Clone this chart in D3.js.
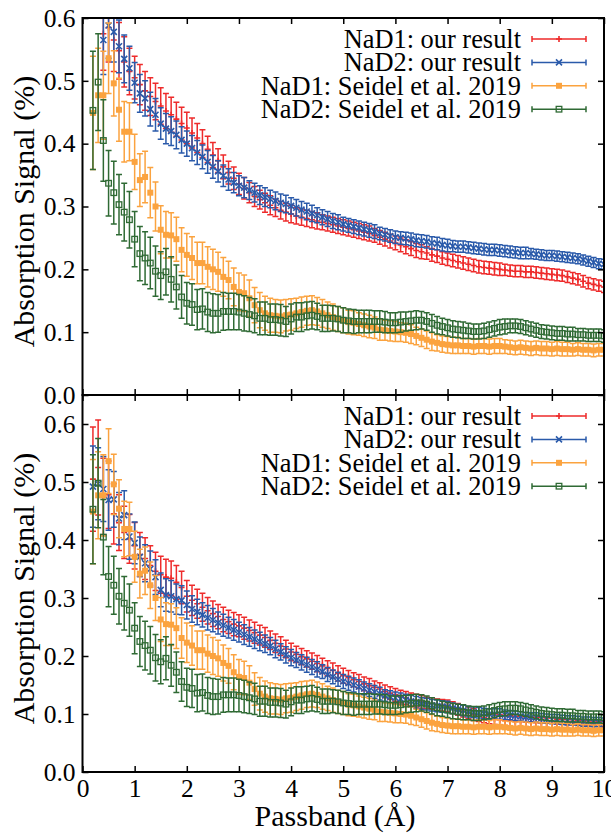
<!DOCTYPE html>
<html>
<head>
<meta charset="utf-8">
<script src="https://cdn.jsdelivr.net/npm/d3@7"></script>
<style>
  html, body { margin: 0; padding: 0; background: #fff; }
  svg { display: block; }
</style>
</head>
<body>
<svg id="chart" width="611" height="834"></svg>
<script>
// Passband widths (Å) at which the absorption signal is measured
const passband = [
  0.2,0.3,0.4,0.5,0.6,0.7,0.8,0.9,1.0,
  1.1,1.2,1.3,1.4,1.5,1.6,1.7,1.8,1.9,2.0,
  2.1,2.2,2.3,2.4,2.5,2.6,2.7,2.8,2.9,3.0,
  3.1,3.2,3.3,3.4,3.5,3.6,3.7,3.8,3.9,4.0,
  4.1,4.2,4.3,4.4,4.5,4.6,4.7,4.8,4.9,5.0,
  5.1,5.2,5.3,5.4,5.5,5.6,5.7,5.8,5.9,6.0,
  6.1,6.2,6.3,6.4,6.5,6.6,6.7,6.8,6.9,7.0,
  7.1,7.2,7.3,7.4,7.5,7.6,7.7,7.8,7.9,8.0,
  8.1,8.2,8.3,8.4,8.5,8.6,8.7,8.8,8.9,9.0,
  9.1,9.2,9.3,9.4,9.5,9.6,9.7,9.8,9.9,10.0
];
// upper panel "our result" starts at 0.4 Å
const passbandUpper = passband.slice(2);

// Seidel et al. 2019 (same in both panels)
const seidelNaD1 = [
  .449,.477,.477,.536,.496,.454,.419,.419,.371,
  .342,.347,.322,.300,.263,.255,.254,.248,.231,.223,
  .218,.210,.210,.204,.200,.196,.188,.183,.172,.164,
  .162,.154,.143,.135,.130,.127,.126,.125,.127,.128,
  .130,.132,.134,.135,.133,.130,.127,.124,.121,.119,
  .116,.115,.113,.111,.109,.107,.104,.103,.102,.101,
  .100,.099,.097,.094,.091,.088,.085,.083,.081,.080,
  .079,.079,.078,.078,.077,.078,.078,.077,.078,.078,
  .077,.076,.075,.076,.075,.074,.075,.074,.074,.073,
  .074,.073,.073,.072,.073,.072,.072,.071,.072,.072
];
const seidelNaD1Err = [
  .090,.075,.070,.056,.052,.050,.048,.046,.044,
  .042,.041,.040,.039,.038,.037,.036,.035,.035,.034,
  .034,.033,.033,.032,.032,.031,.031,.030,.030,.030,
  .029,.029,.028,.028,.027,.027,.026,.026,.025,.025,
  .024,.024,.023,.023,.022,.022,.021,.021,.020,.020,
  .019,.019,.018,.018,.018,.017,.017,.016,.016,.016,
  .015,.015,.015,.014,.014,.014,.014,.013,.013,.013,
  .013,.013,.012,.012,.012,.012,.012,.012,.012,.012,
  .011,.011,.011,.011,.011,.011,.011,.011,.011,.011,
  .011,.011,.011,.010,.010,.010,.010,.010,.010,.010
];
const seidelNaD2 = [
  .453,.498,.405,.337,.322,.303,.291,.279,.248,
  .225,.218,.210,.197,.190,.196,.184,.172,.156,.146,
  .144,.136,.137,.132,.130,.130,.133,.133,.133,.132,
  .130,.128,.126,.122,.122,.120,.120,.119,.117,.121,
  .124,.124,.126,.127,.125,.122,.122,.122,.121,.119,
  .118,.117,.117,.117,.117,.117,.117,.116,.115,.115,
  .116,.117,.118,.119,.119,.117,.114,.111,.109,.107,
  .105,.104,.103,.102,.101,.101,.102,.104,.106,.108,
  .109,.110,.110,.109,.107,.105,.103,.101,.100,.099,
  .098,.098,.097,.097,.096,.096,.095,.095,.095,.094
];
const seidelNaD2Err = [
  .094,.077,.065,.052,.050,.048,.046,.045,.044,
  .043,.042,.041,.040,.038,.037,.036,.035,.034,.033,
  .033,.032,.032,.031,.031,.030,.030,.029,.029,.028,
  .028,.027,.027,.026,.026,.025,.025,.025,.024,.024,
  .023,.023,.022,.022,.021,.021,.021,.020,.020,.020,
  .019,.019,.018,.018,.018,.017,.017,.017,.016,.016,
  .016,.015,.015,.015,.014,.014,.014,.014,.013,.013,
  .013,.013,.013,.012,.012,.012,.012,.012,.012,.012,
  .012,.011,.011,.011,.011,.011,.011,.011,.011,.011,
  .011,.011,.011,.011,.010,.010,.010,.010,.010,.010
];

// Upper panel: our result (0.4 - 10 Å)
const upperNaD1 = [
  .575,.585,.565,.548,.530,.515,.505,
  .494,.484,.475,.467,.460,.452,.446,.439,.432,.425,
  .417,.409,.400,.391,.382,.373,.363,.354,.345,.336,
  .329,.322,.316,.311,.306,.302,.298,.294,.291,.288,
  .285,.283,.281,.279,.277,.275,.273,.271,.269,.267,
  .265,.263,.261,.259,.257,.254,.251,.248,.245,.242,
  .239,.236,.233,.230,.228,.226,.223,.221,.218,.216,
  .214,.212,.210,.208,.206,.204,.203,.202,.201,.200,
  .199,.198,.197,.197,.196,.196,.195,.194,.193,.192,
  .191,.190,.188,.186,.184,.181,.178,.176,.174,.172
];
const upperNaD1Err = [
  .058,.055,.050,.045,.040,.037,.034,
  .032,.031,.030,.029,.029,.028,.028,.027,.026,.025,
  .024,.023,.022,.021,.020,.019,.019,.018,.018,.017,
  .017,.016,.016,.015,.015,.015,.014,.014,.014,.014,
  .013,.013,.013,.013,.013,.012,.012,.012,.012,.012,
  .012,.012,.012,.012,.012,.011,.011,.011,.011,.011,
  .011,.011,.011,.011,.011,.010,.010,.010,.010,.010,
  .010,.010,.010,.010,.010,.010,.010,.010,.010,.010,
  .009,.009,.009,.009,.009,.009,.009,.009,.009,.009,
  .009,.009,.009,.009,.009,.009,.009,.009,.009,.009
];
const upperNaD2 = [
  .565,.588,.578,.555,.535,.520,.497,
  .480,.472,.455,.446,.432,.424,.420,.414,.406,.400,
  .393,.386,.379,.371,.363,.356,.349,.343,.338,.333,
  .330,.326,.322,.318,.315,.312,.309,.306,.304,.301,
  .298,.295,.292,.289,.286,.283,.280,.277,.275,.272,
  .270,.268,.266,.264,.262,.260,.257,.255,.253,.251,
  .250,.249,.248,.246,.245,.244,.242,.241,.239,.238,
  .237,.236,.236,.235,.234,.233,.232,.231,.231,.230,
  .229,.228,.227,.226,.226,.225,.224,.223,.222,.222,
  .221,.220,.219,.218,.217,.215,.213,.211,.209,.208
];
const upperNaD2Err = [
  .055,.052,.048,.042,.038,.035,.032,
  .030,.028,.027,.026,.025,.024,.023,.022,.021,.020,
  .020,.019,.019,.018,.018,.017,.017,.017,.016,.016,
  .016,.015,.015,.015,.015,.014,.014,.014,.014,.013,
  .013,.013,.013,.013,.012,.012,.012,.012,.012,.011,
  .011,.011,.011,.011,.011,.011,.010,.010,.010,.010,
  .010,.010,.010,.010,.010,.010,.010,.010,.010,.010,
  .009,.009,.009,.009,.009,.009,.009,.009,.009,.009,
  .009,.009,.009,.009,.009,.008,.008,.008,.008,.008,
  .008,.008,.008,.008,.008,.008,.008,.008,.008,.008
];

// Lower panel: our result (0.2 - 10 Å)
const lowerNaD1 = [
  .505,.525,.475,.478,.445,.430,.413,.402,.390,
  .375,.368,.356,.346,.340,.336,.334,.327,.318,.303,
  .296,.290,.284,.278,.273,.268,.263,.259,.255,.252,
  .248,.244,.240,.236,.232,.227,.222,.217,.212,.207,
  .203,.199,.195,.191,.187,.183,.179,.175,.170,.166,
  .163,.159,.156,.152,.149,.146,.143,.139,.136,.133,
  .130,.128,.125,.123,.121,.119,.118,.116,.115,.114,
  .111,.108,.105,.102,.099,.096,.094,.092,.091,.090,
  .089,.088,.087,.087,.086,.086,.085,.085,.084,.084,
  .083,.083,.082,.082,.081,.081,.080,.080,.079,.079
];
const lowerNaD1Err = [
  .090,.082,.066,.058,.052,.048,.045,.042,.040,
  .038,.036,.034,.033,.032,.031,.030,.029,.028,.027,
  .026,.025,.024,.023,.022,.021,.021,.020,.020,.019,
  .019,.018,.018,.017,.017,.016,.016,.016,.015,.015,
  .014,.014,.014,.014,.014,.013,.013,.013,.013,.013,
  .012,.012,.012,.012,.012,.011,.011,.011,.011,.011,
  .011,.011,.011,.011,.011,.010,.010,.010,.010,.010,
  .010,.010,.010,.010,.010,.009,.009,.009,.009,.009,
  .009,.009,.009,.009,.009,.009,.009,.009,.009,.009,
  .008,.008,.008,.008,.008,.008,.008,.008,.008,.008
];
const lowerNaD2 = [
  .492,.497,.488,.469,.470,.437,.443,.406,.395,
  .371,.360,.350,.336,.314,.305,.303,.298,.296,.288,
  .281,.276,.271,.266,.262,.257,.253,.249,.245,.241,
  .237,.233,.229,.225,.221,.217,.212,.207,.202,.197,
  .193,.189,.185,.181,.177,.173,.168,.164,.160,.156,
  .153,.150,.147,.144,.141,.138,.135,.132,.130,.128,
  .126,.124,.122,.120,.118,.117,.115,.114,.113,.112,
  .110,.108,.106,.104,.103,.102,.101,.100,.100,.100,
  .099,.098,.097,.096,.095,.094,.094,.093,.092,.091,
  .091,.090,.089,.089,.088,.087,.087,.086,.086,.085
];
const lowerNaD2Err = [
  .070,.062,.056,.052,.048,.045,.042,.039,.036,
  .034,.032,.031,.030,.029,.028,.027,.026,.025,.024,
  .023,.022,.021,.021,.020,.019,.019,.018,.018,.017,
  .017,.016,.016,.016,.015,.015,.015,.014,.014,.014,
  .013,.013,.013,.013,.013,.012,.012,.012,.012,.012,
  .012,.012,.012,.011,.011,.011,.011,.010,.010,.010,
  .010,.010,.010,.010,.010,.010,.010,.010,.010,.010,
  .009,.009,.009,.009,.009,.009,.009,.009,.009,.009,
  .008,.008,.008,.008,.008,.008,.008,.008,.008,.008,
  .008,.008,.008,.008,.008,.008,.008,.008,.008,.008
];

const legendLabels = [
  "NaD1: our result",
  "NaD2: our result",
  "NaD1: Seidel et al. 2019",
  "NaD2: Seidel et al. 2019"
];
const xTicks = [0,1,2,3,4,5,6,7,8,9,10];
const yTicks = [0.0,0.1,0.2,0.3,0.4,0.5,0.6];

// ---- styling ----
const FONT = '"Liberation Serif", "Times New Roman", serif';
const colors = ["#ee2b2b", "#2a5aaa", "#fba33f", "#2f6a34"];
const markers = ["plus", "times", "square", "openSquare"];

const svg = d3.select("#chart");
const plotLeft = 82.5, plotRight = 604;
const x = d3.scaleLinear().domain([0, 10]).range([plotLeft, plotRight]);

const panels = [
  { top: 18, bottom: 395, yMax: 0.6,
    series: [
      { xs: passbandUpper, ys: upperNaD1, es: upperNaD1Err },
      { xs: passbandUpper, ys: upperNaD2, es: upperNaD2Err },
      { xs: passband, ys: seidelNaD1, es: seidelNaD1Err },
      { xs: passband, ys: seidelNaD2, es: seidelNaD2Err }
    ],
    xLabels: false },
  { top: 395, bottom: 772, yMax: 0.65,
    series: [
      { xs: passband, ys: lowerNaD1, es: lowerNaD1Err },
      { xs: passband, ys: lowerNaD2, es: lowerNaD2Err },
      { xs: passband, ys: seidelNaD1, es: seidelNaD1Err },
      { xs: passband, ys: seidelNaD2, es: seidelNaD2Err }
    ],
    xLabels: true }
];

function drawMarker(g, kind, cx, cy, color) {
  if (kind === "plus") {
    g.append("path").attr("d", `M${cx-3},${cy}H${cx+3}M${cx},${cy-3}V${cy+3}`)
      .attr("stroke", color).attr("stroke-width", 1.6).attr("fill", "none");
  } else if (kind === "times") {
    g.append("path").attr("d", `M${cx-3},${cy-3}L${cx+3},${cy+3}M${cx-3},${cy+3}L${cx+3},${cy-3}`)
      .attr("stroke", color).attr("stroke-width", 1.6).attr("fill", "none");
  } else if (kind === "square") {
    g.append("rect").attr("x", cx-3).attr("y", cy-3).attr("width", 6).attr("height", 6)
      .attr("fill", color);
  } else {
    g.append("rect").attr("x", cx-2.8).attr("y", cy-2.8).attr("width", 5.6).attr("height", 5.6)
      .attr("fill", "none").attr("stroke", color).attr("stroke-width", 1.3);
  }
}

const capHalf = 3;

panels.forEach((p, pi) => {
  const y = d3.scaleLinear().domain([0, p.yMax]).range([p.bottom, p.top]);
  const clipId = "clip" + pi;
  svg.append("clipPath").attr("id", clipId)
    .append("rect").attr("x", plotLeft).attr("y", p.top)
    .attr("width", plotRight - plotLeft).attr("height", p.bottom - p.top);

  const plot = svg.append("g").attr("clip-path", `url(#${clipId})`);

  p.series.forEach((s, si) => {
    const color = colors[si];
    const g = plot.append("g").attr("class", "series" + si);
    const pts = s.xs.map((xv, i) => ({ x: xv, v: s.ys[i], e: s.es[i] }));
    g.selectAll("path.bar").data(pts).join("path")
      .attr("class", "bar")
      .attr("d", d => {
        const px = x(d.x), y0 = y(d.v - d.e), y1 = y(d.v + d.e);
        return `M${px},${y0}V${y1}M${px-capHalf},${y0}H${px+capHalf}M${px-capHalf},${y1}H${px+capHalf}`;
      })
      .attr("stroke", color).attr("stroke-width", 1.5).attr("fill", "none");
    pts.forEach(d => drawMarker(g, markers[si], x(d.x), y(d.v), color));
  });

  // axes with inward ticks on all four sides
  const left = svg.append("g").attr("transform", `translate(${plotLeft},0)`)
    .call(d3.axisLeft(y).tickValues(yTicks).tickSize(-6).tickSizeOuter(0).tickPadding(7)
      .tickFormat(d3.format(".1f")));
  const right = svg.append("g").attr("transform", `translate(${plotRight},0)`)
    .call(d3.axisRight(y).tickValues(yTicks).tickSize(-6).tickSizeOuter(0).tickFormat(""));
  const top = svg.append("g").attr("transform", `translate(0,${p.top})`)
    .call(d3.axisTop(x).tickValues(xTicks).tickSize(-6).tickSizeOuter(0).tickFormat(""));
  const bottom = svg.append("g").attr("transform", `translate(0,${p.bottom})`)
    .call(d3.axisBottom(x).tickValues(xTicks).tickSize(-6).tickSizeOuter(0).tickPadding(7)
      .tickFormat(p.xLabels ? d3.format("d") : ""));
  [left, right, top, bottom].forEach(a => {
    a.attr("font-family", null).attr("font-size", null);
    a.select(".domain").remove();
    a.selectAll(".tick line").attr("stroke", "#000").attr("stroke-width", 1.5);
    a.selectAll("text").style("font-family", FONT).style("font-size", "25.5px")
      .attr("fill", "#000");
  });

  // frame
  svg.append("rect").attr("x", plotLeft).attr("y", p.top)
    .attr("width", plotRight - plotLeft).attr("height", p.bottom - p.top)
    .attr("fill", "none").attr("stroke", "#000").attr("stroke-width", 2);

  // y axis title
  svg.append("text")
    .attr("transform", `translate(34,${(p.top + p.bottom) / 2 + 5}) rotate(-90)`)
    .attr("text-anchor", "middle")
    .style("font-family", FONT).style("font-size", "30px")
    .text("Absorption Signal (%)");

  // legend
  const lg = svg.append("g");
  legendLabels.forEach((label, li) => {
    const ly = p.top + 21 + li * 23.4;
    lg.append("text").attr("x", 521).attr("y", ly).attr("dy", "0.34em")
      .attr("text-anchor", "end")
      .style("font-family", FONT).style("font-size", "26.4px")
      .text(label);
    const c = colors[li];
    lg.append("path")
      .attr("d", `M532,${ly}H586M532,${ly-3}V${ly+3}M586,${ly-3}V${ly+3}`)
      .attr("stroke", c).attr("stroke-width", 1.5).attr("fill", "none");
    drawMarker(lg, markers[li], 559, ly, c);
  });
});

// x axis title
svg.append("text").attr("x", 335).attr("y", 826)
  .attr("text-anchor", "middle")
  .style("font-family", FONT).style("font-size", "30px")
  .text("Passband (Å)");
</script>
</body>
</html>
